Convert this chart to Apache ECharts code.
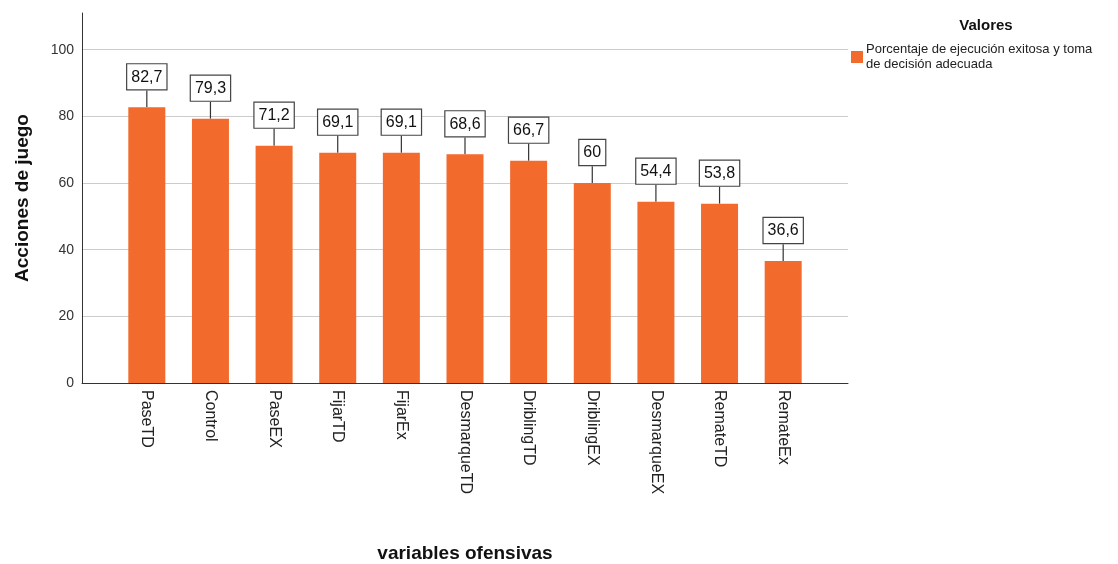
<!DOCTYPE html>
<html>
<head>
<meta charset="utf-8">
<script src="https://cdn.jsdelivr.net/npm/echarts@6/dist/echarts.min.js"></script>
<style>html,body{margin:0;padding:0;background:#fff;}#c{width:1118px;height:564px;}</style>
</head>
<body>
<div id="c"></div>
<script>
const categories = ['PaseTD','Control','PaseEX','FijarTD','FijarEx','DesmarqueTD','DriblingTD','DriblingEX','DesmarqueEX','RemateTD','RemateEx'];
const values = [82.7, 79.3, 71.2, 69.1, 69.1, 68.6, 66.7, 60, 54.4, 53.8, 36.6];
const yTicks = [0, 20, 40, 60, 80, 100];
const seriesName = 'Porcentaje de ejecución exitosa y toma\nde decisión adecuada';
const legendTitle = 'Valores';
const xTitle = 'variables ofensivas';
const yTitle = 'Acciones de juego';

const FONT = '"Liberation Sans", Arial, sans-serif';
const ORANGE = '#f26a2c';
const YMAX = 111;

const chart = echarts.init(document.getElementById('c'), null, {renderer: 'canvas'});
chart.setOption({
  animation: false,
  textStyle: {fontFamily: FONT},
  title: {
    text: legendTitle,
    left: 981, top: 13, textAlign: 'center',
    textStyle: {fontFamily: FONT, fontSize: 15, fontWeight: 'bold', color: '#111'}
  },
  legend: {
    left: 846, top: 37,
    itemWidth: 12, itemHeight: 12, itemGap: 4,
    icon: 'rect',
    textStyle: {fontFamily: FONT, fontSize: 13, lineHeight: 15, color: '#222', padding: [0,0,0,-2]},
    data: [seriesName]
  },
  grid: [
    {left: 82, right: 270, top: 13, bottom: 181, outerBoundsMode: 'none', containLabel: false},
    {left: 115, right: 303, top: 13, bottom: 181, outerBoundsMode: 'none', containLabel: false}
  ],
  xAxis: [
    {
      gridIndex: 0, type: 'value', min: 0, max: 1,
      axisLine: {show: true, onZero: false, lineStyle: {color: '#333', width: 1}},
      axisTick: {show: false}, axisLabel: {show: false}, splitLine: {show: false},
      name: xTitle, nameLocation: 'middle', nameGap: 161,
      nameTextStyle: {fontFamily: FONT, fontSize: 19, fontWeight: 'bold', color: '#111'}
    },
    {
      gridIndex: 1, type: 'category', data: categories,
      axisLine: {show: false}, axisTick: {show: false},
      axisLabel: {rotate: -90, margin: 7, fontFamily: FONT, fontSize: 16, color: '#222', interval: 0}
    }
  ],
  yAxis: [
    {
      gridIndex: 0, type: 'value', min: 0, max: YMAX, interval: 20,
      axisLine: {show: true, lineStyle: {color: '#333', width: 1}},
      axisTick: {show: false},
      axisLabel: {
        margin: 8, fontFamily: FONT, fontSize: 14, color: '#333',
        showMaxLabel: false,
        formatter: v => (yTicks.indexOf(v) >= 0 ? String(v) : '')
      },
      splitLine: {show: true, showMinLine: false, showMaxLine: false, lineStyle: {color: '#cccccc', width: 1}},
      name: yTitle, nameLocation: 'middle', nameGap: 50, nameRotate: 90,
      nameTextStyle: {fontFamily: FONT, fontSize: 19, fontWeight: 'bold', color: '#111'}
    },
    {
      gridIndex: 1, type: 'value', min: 0, max: YMAX, interval: 20, show: false
    }
  ],
  series: [{
    name: seriesName,
    type: 'bar',
    xAxisIndex: 1, yAxisIndex: 1,
    data: values,
    barWidth: 37,
    itemStyle: {color: ORANGE},
    label: {
      show: true, position: 'top', distance: 0,
      formatter: p => String(p.value).replace('.', ','),
      fontFamily: FONT, fontSize: 16, color: '#111',
      backgroundColor: '#fff', borderColor: '#444', borderWidth: 1.2,
      padding: [5, 4, 4, 4]
    },
    labelLayout: {dy: -18},
    labelLine: {show: true, lineStyle: {color: '#333', width: 1.2}}
  }]
});
</script>
</body>
</html>
